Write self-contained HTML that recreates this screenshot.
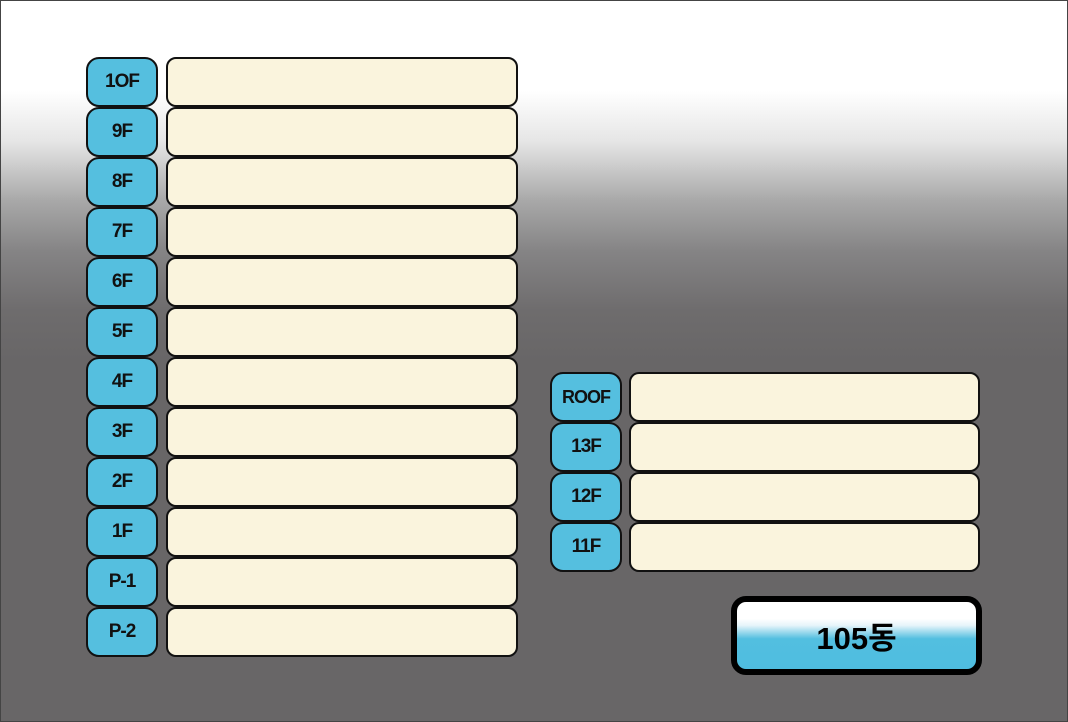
<!DOCTYPE html>
<html><head><meta charset="utf-8"><style>
html,body{margin:0;padding:0}
body{width:1068px;height:722px;position:relative;overflow:hidden;font-family:"Liberation Sans","Noto Sans CJK KR",sans-serif}
#bg{position:absolute;left:0;top:0;width:1066px;height:720px;border:1px solid #444;
background:linear-gradient(to bottom,#fff 0px,#fff 90px,#e6e6e6 140px,#a8a8a8 200px,#858485 250px,#6e6c6d 310px,#686667 360px,#686667 722px)}
.l{position:absolute;width:68px;height:46px;background:#55bfdf;border:2px solid #111;border-radius:13px;box-sizing:content-box;
display:flex;align-items:center;justify-content:center;font-size:19px;font-weight:bold;color:#111;letter-spacing:-1px}
.b{position:absolute;height:46px;background:#faf4dd;border:2px solid #111;border-radius:10px}
#btn{position:absolute;left:731px;top:596px;width:239px;height:67px;border:6px solid #000;border-radius:15px;
background:linear-gradient(to bottom,#fff 0%,#fff 25%,#e6f4fa 35%,#52bfe0 55%,#4fbde0 100%);
display:flex;align-items:center;justify-content:center;font-size:31px;color:#000;font-weight:bold}
</style></head><body>
<div id="bg"></div>
<div class="l" style="left:86px;top:57px">1OF</div><div class="b" style="left:166px;top:57px;width:348px"></div>
<div class="l" style="left:86px;top:107px">9F</div><div class="b" style="left:166px;top:107px;width:348px"></div>
<div class="l" style="left:86px;top:157px">8F</div><div class="b" style="left:166px;top:157px;width:348px"></div>
<div class="l" style="left:86px;top:207px">7F</div><div class="b" style="left:166px;top:207px;width:348px"></div>
<div class="l" style="left:86px;top:257px">6F</div><div class="b" style="left:166px;top:257px;width:348px"></div>
<div class="l" style="left:86px;top:307px">5F</div><div class="b" style="left:166px;top:307px;width:348px"></div>
<div class="l" style="left:86px;top:357px">4F</div><div class="b" style="left:166px;top:357px;width:348px"></div>
<div class="l" style="left:86px;top:407px">3F</div><div class="b" style="left:166px;top:407px;width:348px"></div>
<div class="l" style="left:86px;top:457px">2F</div><div class="b" style="left:166px;top:457px;width:348px"></div>
<div class="l" style="left:86px;top:507px">1F</div><div class="b" style="left:166px;top:507px;width:348px"></div>
<div class="l" style="left:86px;top:557px">P-1</div><div class="b" style="left:166px;top:557px;width:348px"></div>
<div class="l" style="left:86px;top:607px">P-2</div><div class="b" style="left:166px;top:607px;width:348px"></div>
<div class="l" style="left:550px;top:372px;font-size:18px">ROOF</div><div class="b" style="left:629px;top:372px;width:347px"></div>
<div class="l" style="left:550px;top:422px">13F</div><div class="b" style="left:629px;top:422px;width:347px"></div>
<div class="l" style="left:550px;top:472px">12F</div><div class="b" style="left:629px;top:472px;width:347px"></div>
<div class="l" style="left:550px;top:522px">11F</div><div class="b" style="left:629px;top:522px;width:347px"></div>
<div id="btn">105동</div>
</body></html>
